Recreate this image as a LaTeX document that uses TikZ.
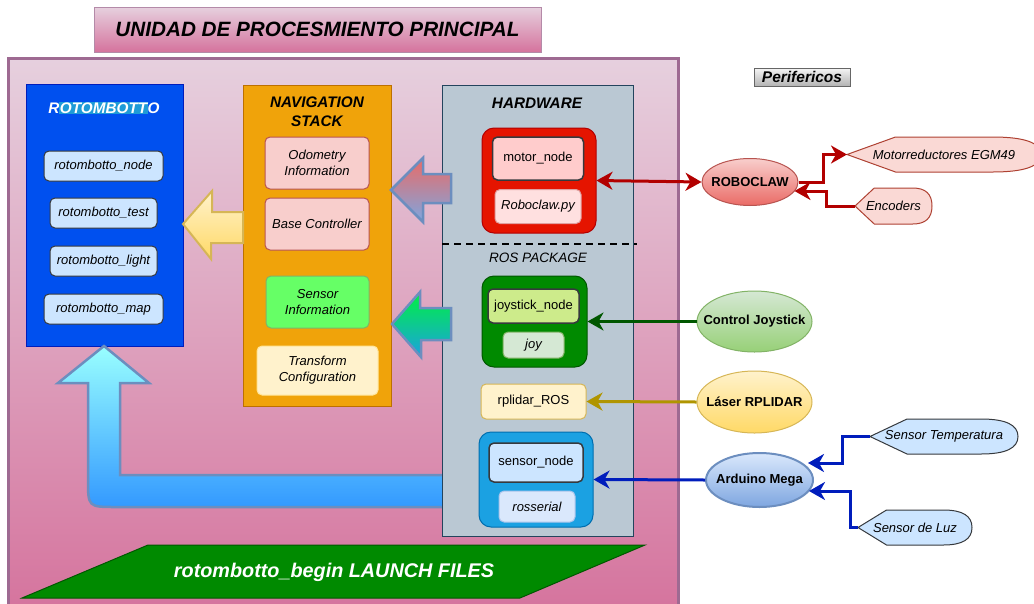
\documentclass[tikz,border=0pt]{standalone}
\usepackage{fontspec}
\setmainfont{Liberation Sans}
\usepackage{xcolor}
\usepackage{tikz}
\usetikzlibrary{arrows.meta, shapes.geometric}
\definecolor{pinktop}{HTML}{E6D0DE}
\definecolor{pinkbot}{HTML}{D5739D}
\definecolor{mainline}{HTML}{9E6A92}
\definecolor{titleline}{HTML}{B48AA8}
\definecolor{roboblue}{HTML}{0050EF}
\definecolor{roboline}{HTML}{001DBC}
\definecolor{hilite}{HTML}{1E9BD7}
\definecolor{itemblue}{HTML}{CCE5FF}
\definecolor{itemline}{HTML}{36393D}
\definecolor{navfill}{HTML}{F0A30A}
\definecolor{navline}{HTML}{BD7000}
\definecolor{odofill}{HTML}{F8CECC}
\definecolor{odoline}{HTML}{B85450}
\definecolor{sensfill}{HTML}{66FF66}
\definecolor{greenline}{HTML}{82B366}
\definecolor{creamfill}{HTML}{FFF2CC}
\definecolor{creamline}{HTML}{FFE599}
\definecolor{goldline}{HTML}{D6B656}
\definecolor{goldfill}{HTML}{FFD966}
\definecolor{hwfill}{HTML}{BAC8D3}
\definecolor{hwline}{HTML}{23445D}
\definecolor{clawfill}{HTML}{E51400}
\definecolor{clawline}{HTML}{B20000}
\definecolor{motorfill}{HTML}{FFCCCC}
\definecolor{pyfill}{HTML}{FFE0E0}
\definecolor{pyline}{HTML}{E0A0A0}
\definecolor{joyfill}{HTML}{008A00}
\definecolor{joyline}{HTML}{005700}
\definecolor{joynode}{HTML}{CDEB8B}
\definecolor{joyitem}{HTML}{D5E8D4}
\definecolor{serfill}{HTML}{1BA1E2}
\definecolor{serline}{HTML}{006EAF}
\definecolor{rosfill}{HTML}{DAE8FC}
\definecolor{rosline}{HTML}{A9C4EB}
\definecolor{arrowline}{HTML}{6C8EBF}
\definecolor{odotop}{HTML}{EA6B66}
\definecolor{odobot}{HTML}{7EA6E0}
\definecolor{senstop}{HTML}{00F040}
\definecolor{cyantop}{HTML}{99FFFF}
\definecolor{cyanbot}{HTML}{3399FF}
\definecolor{lidarline}{HTML}{B09500}
\definecolor{dispred}{HTML}{FAD9D5}
\definecolor{displine}{HTML}{AE4132}
\definecolor{greenbot}{HTML}{97D077}
\definecolor{bluebot}{HTML}{7EA6E0}
\definecolor{greytop}{HTML}{F5F5F5}
\definecolor{greybot}{HTML}{B3B3B3}
\definecolor{greyline}{HTML}{666666}
\setlength{\fboxsep}{0.5pt}

% display shape: name, x, y, width, height, fill, draw, text
\newcommand{\dispnode}[8]{%
  \pgfmathsetmacro{\dispdx}{0.25*#4}
  \draw[fill=#6, draw=#7, line width=1pt] (#2,#3+#5/2) -- (#2+\dispdx,#3) -- (#2+#4-\dispdx,#3)
    .. controls (#2+#4-\dispdx/3,#3) and (#2+#4,#3+#5/6) .. (#2+#4,#3+#5/2)
    .. controls (#2+#4,#3+#5*5/6) and (#2+#4-\dispdx/3,#3+#5) .. (#2+#4-\dispdx,#3+#5)
    -- (#2+\dispdx,#3+#5) -- cycle;
  \coordinate (#1tip) at (#2,#3+#5/2);
  \node[it] (#1) at (#2+#4/2,#3+#5/2) {#8};
}

\begin{document}
\begin{tikzpicture}[x=1pt, y=-1pt, >={Stealth[length=16pt, width=18pt, inset=5pt]},
  every node/.style={align=center, inner sep=0pt, font=\fontsize{13}{16}\selectfont},
  it/.style={font=\fontsize{13}{16}\selectfont\itshape},
  sz/.style 2 args={minimum width=#1pt, minimum height=#2pt},
  panel/.style={draw=#1, line width=1pt},
  item/.style={draw=itemline, line width=1pt, rounded corners=5pt},
  pack/.style={line width=1pt, rounded corners=12pt},
  periph/.style={ellipse, line width=1pt, font=\fontsize{13}{16}\selectfont\bfseries},
  conn/.style={line width=3pt, ->},
  blockarrow/.style={line width=2.5pt, draw=arrowline, line join=miter},
  heading/.style={font=\fontsize{15.3}{19}\selectfont\bfseries\itshape}]

\useasboundingbox (0,0) rectangle (1034,603);
\clip (0,0) rectangle (1034,603);

% main unit
\node[draw=titleline, line width=1pt, top color=pinktop, bottom color=pinkbot, sz={447}{45},
  font=\fontsize{20.7}{24}\selectfont\bfseries\itshape] (title) at (317.5,29.5) {UNIDAD DE PROCESMIENTO PRINCIPAL};
\draw[line width=3pt, draw=mainline, top color=pinktop, bottom color=pinkbot] (8,58) rectangle (678,615);

% rotombotto package
\node[panel=roboline, fill=roboblue, sz={157}{262}] (robot) at (104.5,215) {};
\node[heading, text=white] (robottitle) at (104,108) {R\colorbox{hilite}{OTOMBOTT}O};
\node[item, it, fill=itemblue, sz={119}{30}] (rnode) at (103.5,166) {rotombotto\_node};
\node[item, it, fill=itemblue, sz={107}{30}] (rtest) at (103.5,213) {rotombotto\_test};
\node[item, it, fill=itemblue, sz={107}{30}] (rlight) at (103.5,261) {rotombotto\_light};
\node[item, it, fill=itemblue, sz={119}{30}] (rmap) at (103.5,309) {rotombotto\_map};

% navigation stack
\node[panel=navline, fill=navfill, sz={148}{321}] (nav) at (317,245.5) {};
\node[heading] (navtitle) at (317,112) {NAVIGATION\\STACK};
\node[item, it, draw=odoline, fill=odofill, sz={104}{52}] (odom) at (317,163) {Odometry\\Information};
\node[item, it, draw=odoline, fill=odofill, sz={104}{52}] (base) at (317,224) {Base Controller};
\node[item, it, draw=greenline, fill=sensfill, sz={103}{52}] (sensinfo) at (317.5,302) {Sensor\\Information};
\node[item, it, draw=creamline, fill=creamfill, sz={121}{49}] (transf) at (317.5,370.5) {Transform\\Configuration};

\draw[line width=2pt, draw=goldline, line join=miter, top color=creamfill, bottom color=goldfill]
  (243,212) -- (212,212) -- (212,191) -- (183,224) -- (211,259) -- (211,243) -- (243,243) -- cycle;

% launch arrow back to rotombotto
\draw[blockarrow, top color=cyantop, bottom color=cyanbot] (445,475) -- (120,475) -- (120,383) -- (149,383)
  -- (104,346) -- (58,383) -- (88,383) -- (88,479) .. controls (88,507) .. (116,507) -- (445,507) -- cycle;

% hardware / ros packages
\node[panel=hwline, fill=hwfill, sz={191}{451}] (hw) at (537.5,310.5) {};
\node[heading] (hwtitle) at (537,103) {HARDWARE};
\draw[line width=2pt, dash pattern=on 7pt off 5pt] (442,244) -- (637,244);
\node[font=\fontsize{13.6}{16}\selectfont\itshape] (rospkg) at (538,258) {ROS PACKAGE};

\node[pack, draw=clawline, fill=clawfill, sz={114}{105}] (clawbox) at (539,180.5) {};
\node[item, line width=1.5pt, fill=motorfill, sz={91}{43}] (motor) at (538,158.5) {motor\_node};
\node[item, it, draw=pyline, fill=pyfill, sz={86}{34}] (roboclawpy) at (538,206.5) {Roboclaw.py};

\node[pack, draw=joyline, fill=joyfill, sz={105}{91}] (joybox) at (534.5,321.5) {};
\node[item, line width=1.5pt, fill=joynode, sz={91}{34}] (joynode) at (533.5,306) {joystick\_node};
\node[item, it, draw=greenline, fill=joyitem, sz={61}{26}] (joy) at (533.5,345) {joy};

\node[item, draw=goldline, fill=creamfill, sz={105}{35}] (rplidar) at (533.5,401.5) {rplidar\_ROS};

\node[pack, draw=serline, fill=serfill, sz={114}{95}] (serbox) at (536,479.5) {};
\node[item, line width=1.5pt, fill=itemblue, sz={94}{39}] (sensnode) at (536,462.5) {sensor\_node};
\node[item, it, draw=rosline, fill=rosfill, sz={76}{31}] (rosserial) at (537,506.5) {rosserial};

\draw[blockarrow, top color=odotop, bottom color=odobot]
  (451,174) -- (423,174) -- (423,158) -- (391,190) -- (423,222) -- (423,203) -- (451,203) -- cycle;
\draw[blockarrow, top color=senstop, bottom color=serfill]
  (451,308) -- (420,308) -- (420,292) -- (392,324) -- (421,357) -- (421,340) -- (451,340) -- cycle;

% launch files
\draw[draw=joyline, fill=joyfill, line width=1pt] (148,545) -- (645,545) -- (520,598) -- (22,598) -- cycle;
\node[text=white, font=\fontsize{19.8}{24}\selectfont\bfseries\itshape] (launch) at (334,572) {rotombotto\_begin LAUNCH FILES};

% perifericos
\node[draw=greyline, line width=1pt, top color=greytop, bottom color=greybot, sz={96}{18},
  font=\fontsize{15.5}{18}\selectfont\bfseries\itshape] (perif) at (802,77) {Perifericos};

\node[periph, draw=odoline, top color=odofill, bottom color=odotop, sz={96}{47}] (roboclaw) at (750,182) {\makebox[0pt]{ROBOCLAW}};
\node[periph, draw=greenline, top color=joyitem, bottom color=greenbot, sz={115}{61}] (joystick) at (754.5,321.5) {\makebox[0pt]{Control Joystick}};
\node[periph, draw=goldline, top color=creamfill, bottom color=goldfill, sz={115}{62}] (laser) at (754.5,402) {\makebox[0pt]{Láser RPLIDAR}};
\node[periph, line width=2pt, draw=arrowline, top color=rosfill, bottom color=bluebot, sz={107}{54}] (arduino) at (759.5,480) {\makebox[0pt]{Arduino Mega}};

\dispnode{motorr}{847}{137}{194}{35}{dispred}{displine}{Motorreductores EGM49}
\dispnode{encoders}{855}{188}{77}{36}{dispred}{displine}{Encoders}
\dispnode{temp}{870}{419}{148}{35}{itemblue}{itemline}{Sensor Temperatura}
\dispnode{luz}{858}{510}{114}{35}{itemblue}{itemline}{Sensor de Luz}

\draw[conn, <->, color=clawline] (clawbox.east) -- (roboclaw.west);
\draw[conn, color=clawline] (roboclaw.east) -- ++(25,0) |- (motorrtip);
\draw[conn, color=clawline] (encoderstip) -- ++(-29,0) |- ([shift={(-4pt,-9pt)}]roboclaw.east);
\draw[conn, color=joyline] (joystick.west) -- (joybox.east);
\draw[conn, color=lidarline] (laser.west) -- (rplidar.east);
\draw[conn, color=roboline] (arduino.west) -- (serbox.east);
\draw[conn, color=roboline] (temptip) -- ++(-28,0) |- ([shift={(-6pt,17pt)}]arduino.east);
\draw[conn, color=roboline] (luztip) -- ++(-8,0) |- ([shift={(-5pt,-11pt)}]arduino.east);
\end{tikzpicture}
\end{document}
